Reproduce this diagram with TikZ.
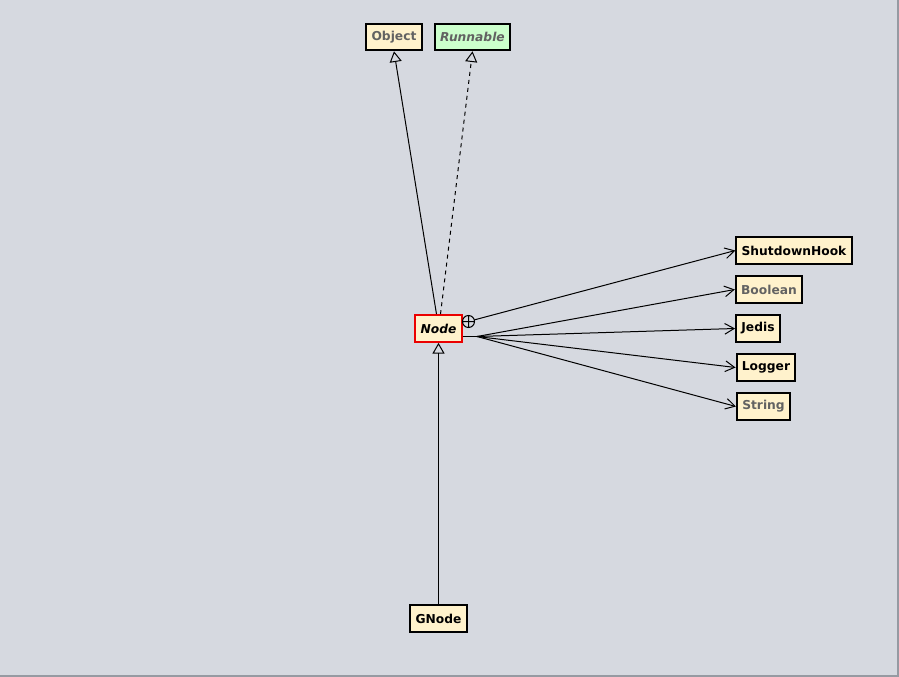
\documentclass[tikz,border=0pt]{standalone}
\usepackage{fontspec}
\setmainfont{DejaVu Sans}
\usetikzlibrary{arrows.meta}
\definecolor{canvas}{RGB}{214,217,224}
\definecolor{frame}{RGB}{150,154,162}
\definecolor{classfill}{RGB}{255,242,204}
\definecolor{ifacefill}{RGB}{204,255,204}
\definecolor{libtext}{RGB}{98,98,98}
\definecolor{abstractred}{RGB}{235,0,0}
\tikzset{every picture/.style={line width=0.75pt},
  classbox/.style={draw, line width=1.5pt, fill=classfill, font=\bfseries\fontsize{9.2}{11}\selectfont, minimum height=20pt, inner xsep=4pt, inner ysep=0pt},
  libbox/.style={classbox, text=libtext},
  ifacebox/.style={classbox, fill=ifacefill, text=libtext, font=\bfseries\itshape\fontsize{9.2}{11}\selectfont},
  abstractbox/.style={classbox, draw=abstractred, font=\bfseries\itshape\fontsize{9.2}{11}\selectfont},
  extends/.style={-{Triangle[open, length=8pt, width=9pt]}},
  uses/.style={-{Straight Barb[length=7pt, width=8pt]}}}

\begin{document}
\begin{tikzpicture}[x=0.75pt,y=0.75pt,yscale=-1,xscale=1]
	%background and frame
	\fill [canvas] (0,0) rectangle (899,677);
	\useasboundingbox (0,0) rectangle (899,677);
	\draw [frame, line width=1.5pt] (0,675.5) -- (897.5,675.5) -- (897.5,0);
	
	%classes
	\node [libbox] (object) at (394,37) {Object};
	\node [ifacebox] (runnable) at (472.5,37) {Runnable};
	\node [abstractbox] (node) at (438.5,328.5) {Node};
	\node [classbox] (shutdown) at (794,250.5) {ShutdownHook};
	\node [libbox] (boolean) at (769,289.5) {Boolean};
	\node [classbox] (jedis) at (758,328.5) {Jedis};
	\node [classbox] (logger) at (766,367.5) {Logger};
	\node [libbox] (string) at (763.5,406.5) {String};
	\node [classbox] (gnode) at (438.5,618.5) {GNode};
	
	%inheritance
	\draw [extends] ([xshift=-1.5pt]node.north) -- (object.south);
	\draw [extends, dashed] ([xshift=1.5pt]node.north) -- (runnable.south);
	\draw [extends] (gnode.north) -- (node.south);
	
	%inner class
	\coordinate (inner) at (468.5,321.5);
	\draw (inner) circle [radius=6] (462.5,321.5) -- (474.5,321.5) (468.5,315.5) -- (468.5,327.5);
	\draw [uses] (inner) ++(5.8,-1.6) -- (shutdown.west);
	
	%associations
	\coordinate (fan) at (477,336.5);
	\draw (node.east |- fan) -- (fan);
	\foreach \target in {boolean, jedis, logger, string}
	  \draw [uses] (fan) -- (\target.west);
	
\end{tikzpicture}
\end{document}
